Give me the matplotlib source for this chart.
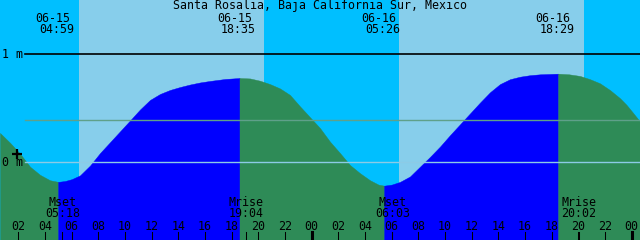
import matplotlib
matplotlib.use("Agg")
from matplotlib import pyplot as plt
from matplotlib.transforms import blended_transform_factory
import numpy as np

title = "Santa Rosalia, Baja California Sur, Mexico"

# tide curve: hours after 06-15 00:00, height in metres
hours = [0.62, 1.37, 2.12, 2.87, 3.62, 4.37, 4.983, 5.5, 6.0, 6.62, 7.37, 8.12,
         8.87, 9.62, 10.37, 11.12, 11.87, 12.62, 13.37, 14.12, 14.87, 15.62,
         16.37, 17.5, 18.583, 19.37, 20.12, 20.87, 21.62, 22.37, 23.12, 23.87,
         24.62, 25.37, 26.12, 26.87, 27.62, 28.37, 29.0, 29.433, 30.0, 30.62,
         31.37, 32.12, 32.87, 33.62, 34.37, 35.12, 35.87, 36.62, 37.37, 38.12,
         38.87, 39.62, 40.37, 41.12, 42.483, 43.3, 44.12, 44.87, 45.62, 46.37,
         47.12, 47.6, 48.1, 48.62]
height = [0.27, 0.18, 0.08, -0.04, -0.115, -0.165, -0.18, -0.172, -0.155, -0.12,
          -0.03, 0.085, 0.185, 0.285, 0.385, 0.486, 0.574, 0.629, 0.666, 0.693,
          0.716, 0.735, 0.749, 0.767, 0.776, 0.772, 0.751, 0.72, 0.68, 0.62,
          0.515, 0.415, 0.315, 0.19, 0.085, -0.025, -0.10, -0.165, -0.205, -0.215,
          -0.205, -0.18, -0.13, -0.04, 0.05, 0.145, 0.25, 0.35, 0.45, 0.55, 0.645,
          0.72, 0.765, 0.788, 0.802, 0.81, 0.816, 0.81, 0.795, 0.765, 0.727,
          0.665, 0.59, 0.53, 0.455, 0.375]

# high / low tide events
event_day = ["06-15", "06-15", "06-16", "06-16"]
event_time = ["04:59", "18:35", "05:26", "18:29"]

# daylight (light sky)
day_start = ["06:33", "06:33"]
day_end = ["20:25", "20:25"]

# moon events
moon_label = ["Mset", "Mrise", "Mset", "Mrise"]
moon_day = [0, 0, 1, 1]
moon_time = ["05:18", "19:04", "06:03", "20:02"]

tick_hours = list(range(2, 49, 2))
tick_labels = ["%02d" % (h % 24) for h in tick_hours]

now_hour, now_height = 1.86, 0.08
msl = 0.387


def to_h(t, day=0):
    hh, mm = t.split(":")
    return day * 24 + int(hh) + int(mm) / 60


event_hours = [to_h(t, int(d[-2:]) - 15) for d, t in zip(event_day, event_time)]
moon_hours = [to_h(t, d) for t, d in zip(moon_time, moon_day)]

W, H = 640, 240
x0 = 0.62
x1 = x0 + 48
ytop, ybot = 1.494, -0.715

fig = plt.figure(figsize=(6.4, 2.4), dpi=100)
ax = fig.add_axes([0, 0, 1, 1])
ax.set_xlim(x0, x1)
ax.set_ylim(ybot, ytop)
ax.axis("off")

ax.axvspan(x0, x1, color="#00bfff", lw=0)
for i in range(2):
    ax.axvspan(to_h(day_start[i], i), to_h(day_end[i], i), color="#87ceeb", lw=0)

hours = np.array(hours)
height = np.array(height)
bounds = [x0] + event_hours + [x1]
for i in range(len(bounds) - 1):
    a, b = bounds[i], bounds[i + 1]
    m = (hours > a) & (hours < b)
    hx = np.concatenate([[a], hours[m], [b]])
    hy = np.interp(hx, hours, height)
    col = "#0000ff" if i % 2 == 1 else "#2e8b57"
    ax.fill_between(hx, hy, ybot, color=col, lw=0.3, edgecolor=col)

xs = 25 / W
ax.axhline(1.0, xmin=xs, color="black", lw=1.2)
ax.axhline(msl, xmin=xs, color="#5fa08a", lw=1.0)
ax.axhline(0.0, xmin=xs, color="#8ccbe6", lw=1.0)

ax.plot([now_hour], [now_height], marker="+", color="black", ms=6.5, mew=1.6)

font = dict(family="DejaVu Sans Mono", size=8.4, color="black")
ft = fig.transFigure
bt = blended_transform_factory(ax.transData, ft)


def fy(p):
    return 1 - p / H


fig.text(0.5, fy(9.5), title, ha="center", va="baseline", **font)
fig.text(2 / W, fy(57.5), "1 m", ha="left", va="baseline", **font)
fig.text(2 / W, fy(165.7), "0 m", ha="left", va="baseline", **font)

for h, d, t in zip(event_hours, event_day, event_time):
    ax.text(h + 0.94, fy(21.7), d, ha="right", va="baseline", transform=bt, **font)
    ax.text(h + 1.24, fy(33.3), t, ha="right", va="baseline", transform=bt, **font)

for h, lab, t in zip(moon_hours, moon_label, moon_time):
    ax.text(h, fy(205.7), lab, ha="center", va="baseline", transform=bt, **font)
    ax.text(h, fy(216.7), t, ha="center", va="baseline", transform=bt, **font)
    ax.plot([h, h], [0, 8.5 / H], color="black", lw=0.75, transform=ax.get_xaxis_transform())

for h, lab in zip(tick_hours, tick_labels):
    ax.text(h, fy(229.5), lab, ha="center", va="baseline", transform=bt, **font)
    lw = 2.2 if h % 24 == 0 else 0.75
    ax.plot([h, h], [0, 8.5 / H], color="black", lw=lw, transform=ax.get_xaxis_transform())

fig.savefig("out.png", dpi=100)
